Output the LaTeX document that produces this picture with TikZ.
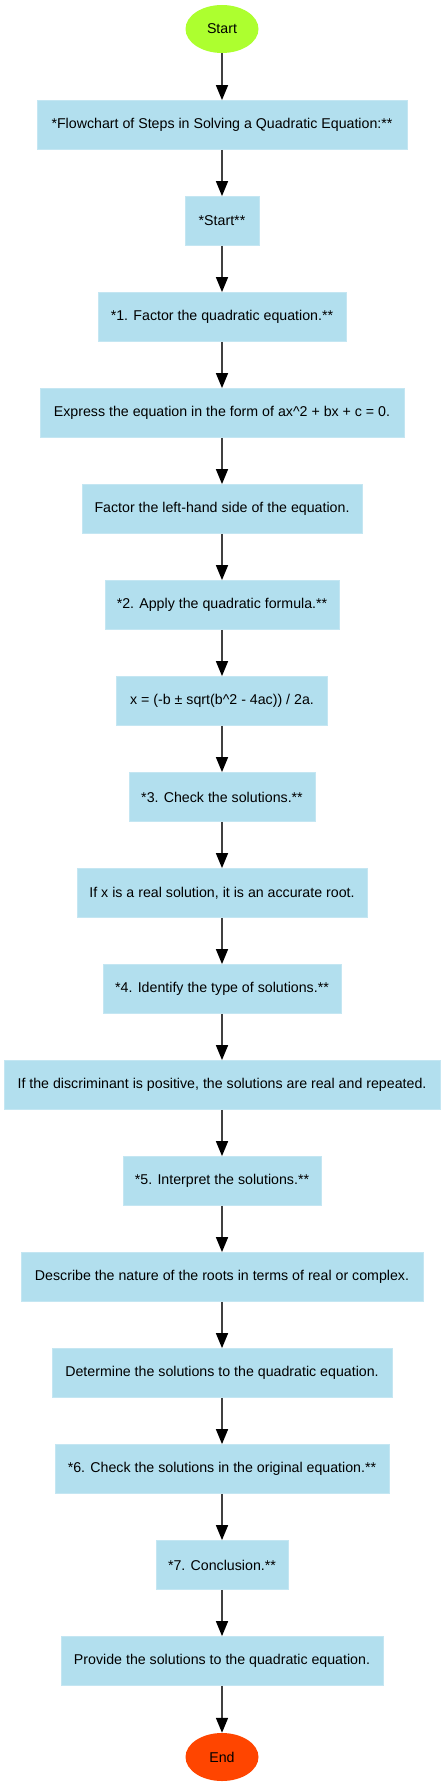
\documentclass[tikz,border=0pt]{standalone}
\usepackage{fontspec}
\setmainfont{Liberation Sans}
\usetikzlibrary{arrows.meta,shapes.geometric}
\definecolor{boxfill}{HTML}{B2DFEE}
\definecolor{boxedge}{HTML}{C4E6F2}
\definecolor{startfill}{HTML}{ADFF2F}
\definecolor{endfill}{HTML}{FF4500}
\definecolor{linecol}{HTML}{404040}
\tikzset{
  stepbox/.style={rectangle, fill=boxfill, draw=boxedge, line width=0.8pt, minimum height=49pt, inner sep=0pt, font=\fontsize{14.2pt}{16pt}\selectfont},
  termnode/.style={ellipse, minimum width=73pt, minimum height=48pt, inner sep=0pt, font=\fontsize{14.2pt}{16pt}\selectfont},
  flow/.style={draw=linecol, line width=1.6pt, -{Triangle[length=15pt,width=12pt,color=black]}}
}
\begin{document}
\begin{tikzpicture}[x=1pt,y=-1pt]
\useasboundingbox (0,0) rectangle (444,1787);
\node[termnode, fill=startfill] (n0) at (222,29) {Start};
\node[stepbox, minimum width=370pt] (n1) at (222,125) {*Flowchart of Steps in Solving a Quadratic Equation:**};
\node[stepbox, minimum width=74pt] (n2) at (222,221) {*Start**};
\node[stepbox, minimum width=248pt] (n3) at (222,317) {*1. Factor the quadratic equation.**};
\node[stepbox, minimum width=364pt] (n4) at (222,413) {Express the equation in the form of ax\textasciicircum 2 + bx + c = 0.};
\node[stepbox, minimum width=280pt] (n5) at (222,509) {Factor the left-hand side of the equation.};
\node[stepbox, minimum width=234pt] (n6) at (222,605) {*2. Apply the quadratic formula.**};
\node[stepbox, minimum width=211pt] (n7) at (222,701) {x = (-b ± sqrt(b\textasciicircum 2 - 4ac)) / 2a.};
\node[stepbox, minimum width=186pt] (n8) at (222,797) {*3. Check the solutions.**};
\node[stepbox, minimum width=290pt] (n9) at (222,893) {If x is a real solution, it is an accurate root.};
\node[stepbox, minimum width=238pt] (n10) at (222,989) {*4. Identify the type of solutions.**};
\node[stepbox, minimum width=436pt] (n11) at (222,1085) {If the discriminant is positive, the solutions are real and repeated.};
\node[stepbox, minimum width=198pt] (n12) at (222,1181) {*5. Interpret the solutions.**};
\node[stepbox, minimum width=402pt] (n13) at (222,1277) {Describe the nature of the roots in terms of real or complex.};
\node[stepbox, minimum width=340pt] (n14) at (222,1373) {Determine the solutions to the quadratic equation.};
\node[stepbox, minimum width=334pt] (n15) at (222,1469) {*6. Check the solutions in the original equation.**};
\node[stepbox, minimum width=132pt] (n16) at (222,1565) {*7. Conclusion.**};
\node[stepbox, minimum width=322pt] (n17) at (222,1661) {Provide the solutions to the quadratic equation.};
\node[termnode, fill=endfill] (n18) at (222,1757) {End};
\foreach \a/\b in {n0/n1,n1/n2,n2/n3,n3/n4,n4/n5,n5/n6,n6/n7,n7/n8,n8/n9,n9/n10,n10/n11,n11/n12,n12/n13,n13/n14,n14/n15,n15/n16,n16/n17,n17/n18}
  \draw[flow] (\a) -- (\b);
\end{tikzpicture}
\end{document}
